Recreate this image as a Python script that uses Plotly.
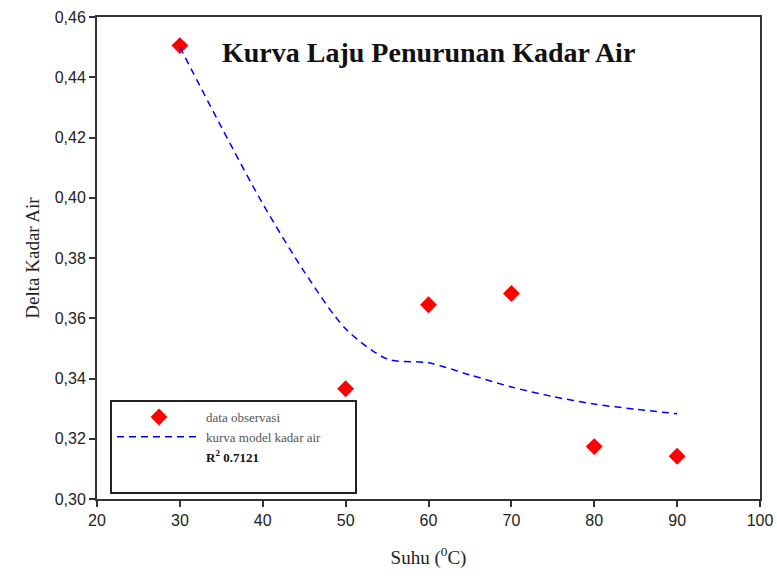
import plotly.graph_objects as go

# Data
suhu_obs = [30, 50, 60, 70, 80, 90]
kadar_obs = [0.4505, 0.3366, 0.3645, 0.3682, 0.3174, 0.3142]

suhu_model = [30, 35, 40, 45, 50, 55, 60, 65, 70, 75, 80, 85, 90]
kadar_model = [0.450, 0.4235, 0.398, 0.3755, 0.3565, 0.3465, 0.3452, 0.3412, 0.3372, 0.3340, 0.3315, 0.3298, 0.3283]

x_ticks = [20, 30, 40, 50, 60, 70, 80, 90, 100]
y_ticks = [0.30, 0.32, 0.34, 0.36, 0.38, 0.40, 0.42, 0.44, 0.46]
y_ticktext = ["0,30", "0,32", "0,34", "0,36", "0,38", "0,40", "0,42", "0,44", "0,46"]

title_text = "Kurva Laju Penurunan Kadar Air"
r2_text = "<b><span style='color:#111111'>R<sup>2</sup> 0.7121</span></b>"

fig = go.Figure()
fig.add_trace(go.Scatter(
    x=suhu_obs, y=kadar_obs, mode="markers", name="data observasi",
    marker=dict(symbol="diamond", size=13, color="#ff0000", line=dict(width=0)),
))
fig.add_trace(go.Scatter(
    x=suhu_model, y=kadar_model, mode="lines",
    name="kurva model kadar air" + "&nbsp;" * 9,
    line=dict(color="#0000ff", width=1.5, dash="7px,5px", shape="spline", smoothing=0.8),
))
fig.add_trace(go.Scatter(
    x=[None], y=[None], mode="lines", name=r2_text,
    line=dict(color="rgba(0,0,0,0)", width=1),
))
fig.add_trace(go.Scatter(
    x=[None], y=[None], mode="lines", name="&nbsp;",
    line=dict(color="rgba(0,0,0,0)", width=1),
))

axis_common = dict(
    showline=True, linecolor="#333333", linewidth=2, mirror=True,
    ticks="outside", ticklen=6, tickwidth=1.5, tickcolor="#333333",
    showgrid=False, zeroline=False, automargin=False,
    tickfont=dict(family="Liberation Sans, Arial", size=16, color="#222222"),
)

fig.update_layout(
    width=777, height=586,
    margin=dict(l=97, r=17, t=17, b=87),
    paper_bgcolor="white", plot_bgcolor="white",
    xaxis=dict(range=[20, 100], tickvals=x_ticks, **axis_common,
               title=dict(text="Suhu (<sup>0</sup>C)", standoff=22,
                          font=dict(family="Liberation Serif, Times New Roman", size=19, color="#222222"))),
    yaxis=dict(range=[0.30, 0.46], tickvals=y_ticks, ticktext=y_ticktext, **axis_common,
               title=dict(text="Delta Kadar Air", standoff=10,
                          font=dict(family="Liberation Serif, Times New Roman", size=19, color="#222222"))),
    showlegend=True,
    legend=dict(
        x=0.0196, y=0.0104, xanchor="left", yanchor="bottom",
        bordercolor="#222222", borderwidth=2, bgcolor="white",
        font=dict(family="Liberation Serif, Times New Roman", size=13, color="#555555"),
        itemwidth=84, tracegroupgap=0,
    ),
    annotations=[dict(
        text="<b>" + title_text + "</b>", xref="paper", yref="paper",
        x=0.4993, y=0.927, xanchor="center", yanchor="middle", showarrow=False,
        font=dict(family="Liberation Serif, Times New Roman", size=28, color="#111111"),
    )],
)

fig.write_html("out.html", config={"displayModeBar": False},
               post_script="document.body.style.margin='0';document.documentElement.style.overflow='hidden';")
